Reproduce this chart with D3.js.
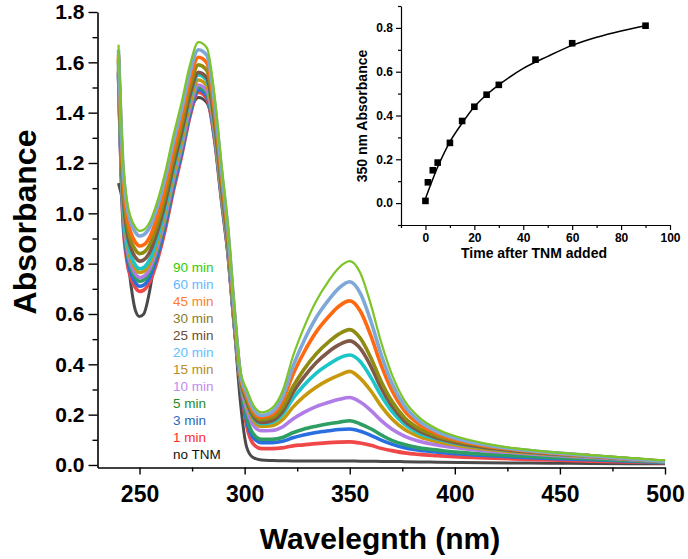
<!DOCTYPE html>
<html><head><meta charset="utf-8">
<script src="https://cdn.jsdelivr.net/npm/d3@7"></script>
<style>body{margin:0;background:#fff}svg{display:block}text{font-family:Arial,"Liberation Sans",sans-serif}</style>
</head><body><svg id="c" width="688" height="559"></svg>
<script>
const wavelengths = [240,242,244,246,248,250,252,255,258,262,266,270,274,278,282,286,289,292,295,298,301,304,308,313,318,323,328,334,340,345,350,355,360,365,370,376,383,392,402,414,428,445,465,500];
const seriesLabels = ["no TNM","1 min","3 min","5 min","10 min","15 min","20 min","25 min","30 min","45 min","60 min","90 min"];
const lineColors = ["#4a4a4a","#f04848","#2a6fe0","#2e9e62","#b07ce6","#c8980c","#1cc6c8","#805848","#8f8c12","#ff6a10","#7fa8d8","#7cc428"];
const legendColors = ["#111111","#ff2a2a","#2a68c0","#1e8c1e","#c48af0","#b88c28","#5ec0ff","#6e4c2c","#8a7a28","#ff7f2a","#66b8ff","#33cc00"];
const absNoTNM = [1.12,1.04,0.86,0.71,0.615,0.59,0.60,0.70,0.86,1.04,1.19,1.31,1.41,1.46,1.44,1.30,1.10,0.88,0.56,0.25,0.07,0.03,0.02,0.018,0.017,0.016,0.016,0.016,0.016,0.016,0.016,0.015,0.015,0.014,0.014,0.013,0.012,0.011,0.010,0.009,0.008,0.007,0.006,0.005];
const abs1min = [1.56,0.99,0.81,0.74,0.705,0.69,0.695,0.73,0.80,0.927,1.085,1.227,1.385,1.48,1.456,1.273,1.051,0.844,0.562,0.326,0.155,0.085,0.065,0.065,0.068,0.076,0.080,0.085,0.089,0.091,0.092,0.087,0.078,0.066,0.057,0.048,0.042,0.037,0.032,0.028,0.024,0.020,0.015,0.009];
const abs3min = [1.55,1.01,0.83,0.76,0.725,0.71,0.715,0.749,0.819,0.944,1.10,1.24,1.396,1.49,1.467,1.281,1.058,0.849,0.566,0.328,0.175,0.11,0.089,0.089,0.094,0.108,0.119,0.129,0.136,0.141,0.143,0.134,0.118,0.099,0.083,0.068,0.059,0.051,0.044,0.038,0.032,0.026,0.021,0.010];
const abs5min = [1.56,1.03,0.85,0.78,0.745,0.73,0.735,0.769,0.838,0.961,1.115,1.254,1.408,1.50,1.477,1.29,1.065,0.855,0.57,0.33,0.19,0.125,0.102,0.102,0.109,0.128,0.142,0.154,0.164,0.170,0.176,0.163,0.144,0.119,0.098,0.081,0.068,0.059,0.050,0.043,0.037,0.030,0.024,0.011];
const abs10min = [1.57,1.045,0.865,0.795,0.76,0.745,0.75,0.783,0.852,0.975,1.128,1.265,1.418,1.51,1.487,1.299,1.072,0.861,0.574,0.332,0.22,0.16,0.136,0.137,0.151,0.183,0.208,0.232,0.249,0.261,0.268,0.250,0.217,0.176,0.143,0.115,0.094,0.079,0.068,0.057,0.049,0.039,0.030,0.013];
const abs15min = [1.58,1.065,0.885,0.815,0.78,0.765,0.77,0.803,0.872,0.995,1.148,1.285,1.438,1.53,1.507,1.316,1.086,0.872,0.581,0.337,0.24,0.18,0.153,0.156,0.180,0.230,0.271,0.309,0.338,0.357,0.372,0.344,0.295,0.234,0.184,0.142,0.113,0.092,0.077,0.064,0.053,0.042,0.033,0.014];
const abs20min = [1.60,1.08,0.90,0.83,0.795,0.78,0.785,0.819,0.888,1.011,1.165,1.304,1.458,1.55,1.527,1.333,1.101,0.884,0.589,0.341,0.25,0.19,0.164,0.169,0.200,0.264,0.315,0.364,0.400,0.425,0.437,0.411,0.349,0.275,0.214,0.162,0.126,0.102,0.083,0.069,0.057,0.044,0.035,0.014];
const abs25min = [1.61,1.11,0.93,0.86,0.825,0.81,0.815,0.848,0.915,1.035,1.185,1.32,1.47,1.56,1.538,1.342,1.108,0.889,0.593,0.343,0.255,0.195,0.169,0.176,0.212,0.288,0.347,0.406,0.450,0.478,0.493,0.463,0.393,0.305,0.235,0.175,0.135,0.106,0.086,0.070,0.057,0.045,0.035,0.014];
const abs30min = [1.62,1.14,0.96,0.89,0.855,0.84,0.845,0.878,0.945,1.065,1.215,1.35,1.50,1.59,1.568,1.367,1.129,0.906,0.604,0.35,0.265,0.205,0.180,0.188,0.228,0.311,0.377,0.441,0.489,0.521,0.538,0.504,0.427,0.332,0.254,0.189,0.145,0.113,0.092,0.075,0.061,0.048,0.037,0.015];
const abs45min = [1.63,1.17,0.99,0.92,0.885,0.87,0.875,0.908,0.975,1.095,1.245,1.38,1.53,1.62,1.598,1.393,1.15,0.923,0.616,0.356,0.275,0.215,0.189,0.200,0.252,0.359,0.444,0.528,0.590,0.632,0.652,0.612,0.515,0.396,0.297,0.216,0.162,0.123,0.097,0.077,0.062,0.048,0.036,0.014];
const abs60min = [1.65,1.21,1.03,0.96,0.925,0.91,0.915,0.947,1.014,1.132,1.28,1.413,1.561,1.65,1.628,1.419,1.172,0.941,0.627,0.363,0.285,0.225,0.197,0.211,0.270,0.392,0.489,0.585,0.656,0.704,0.728,0.683,0.573,0.438,0.327,0.235,0.174,0.131,0.102,0.080,0.064,0.050,0.037,0.014];
const abs90min = [1.67,1.23,1.05,0.98,0.945,0.93,0.935,0.968,1.035,1.155,1.305,1.44,1.59,1.68,1.658,1.445,1.193,0.958,0.638,0.37,0.30,0.24,0.209,0.226,0.293,0.432,0.542,0.651,0.732,0.785,0.810,0.764,0.639,0.486,0.361,0.257,0.189,0.141,0.110,0.086,0.067,0.052,0.039,0.018];
const spectra = [absNoTNM,abs1min,abs3min,abs5min,abs10min,abs15min,abs20min,abs25min,abs30min,abs45min,abs60min,abs90min];

const xTicks = [250,300,350,400,450,500];
const xMinorTicks = [275,325,375,425,475];
const yTicks = [0,0.2,0.4,0.6,0.8,1.0,1.2,1.4,1.6,1.8];
const yMinorTicks = [0.1,0.3,0.5,0.7,0.9,1.1,1.3,1.5,1.7];

const insetTime = [0,1,3,5,10,15,20,25,30,45,60,90];
const insetAbs = [0.01,0.095,0.15,0.185,0.275,0.375,0.44,0.495,0.54,0.655,0.73,0.81];
const fitTime = [0,2,5,10,15,20,25,30,40,50,60,70,80,90];
const fitAbs = [0.02,0.08,0.165,0.28,0.365,0.44,0.495,0.54,0.615,0.67,0.72,0.757,0.786,0.81];
const insetXTicks = [0,20,40,60,80,100];
const insetXMinor = [-10,10,30,50,70,90];
const insetYTicks = [0,0.2,0.4,0.6,0.8];
const insetYMinor = [-0.1,0.1,0.3,0.5,0.7,0.9];

const svg = d3.select("#c");
const x = d3.scaleLinear().domain([230,500]).range([97.5,665]);
const y = d3.scaleLinear().domain([-0.01,1.8]).range([467.5,12]);

// spectra
const line = d3.line().x(d=>x(d[0])).y(d=>y(d[1])).curve(d3.curveMonotoneX);
spectra.forEach((s,i)=>{
  const pts = wavelengths.map((w,j)=>[w,s[j]]);
  svg.append("path").attr("d",line(pts)).attr("fill","none")
    .attr("stroke",lineColors[i]).attr("stroke-width", i===11?2.2:(i===0?3:3.6))
    .attr("stroke-linejoin","round");
});

// axes
const gx = svg.append("g").attr("transform","translate(0,467.5)");
gx.call(d3.axisBottom(x).tickValues(xTicks).tickSize(7).tickSizeOuter(0).tickFormat(d3.format("d")));
gx.append("g").call(d3.axisBottom(x).tickValues(xMinorTicks).tickSize(4).tickFormat("")).select(".domain").remove();
gx.selectAll("path.domain").attr("stroke","#000").attr("stroke-width",1.6);
gx.selectAll("line").attr("stroke","#000").attr("stroke-width",1.4);
gx.selectAll("text").attr("font-size",23).attr("font-weight","bold").attr("fill","#000").attr("dy","1.05em");

const gy = svg.append("g").attr("transform","translate(97.5,0)");
gy.call(d3.axisLeft(y).tickValues(yTicks).tickSize(9).tickSizeOuter(0).tickFormat(d3.format(".1f")));
gy.append("g").call(d3.axisLeft(y).tickValues(yMinorTicks).tickSize(5).tickFormat("")).select(".domain").remove();
gy.selectAll("path.domain").attr("stroke","#000").attr("stroke-width",1.6);
gy.selectAll("line").attr("stroke","#000").attr("stroke-width",1.4);
gy.selectAll("text").attr("font-size",21).attr("font-weight","bold").attr("fill","#000").attr("x",-13);

svg.append("text").attr("transform","translate(36,222) rotate(-90)").attr("text-anchor","middle")
  .attr("font-size",32).attr("font-weight","bold").text("Absorbance");
svg.append("text").attr("x",380).attr("y",549).attr("text-anchor","middle")
  .attr("font-size",30).attr("font-weight","bold").text("Wavelegnth (nm)");

// legend
const legendOrder = [11,10,9,8,7,6,5,4,3,2,1,0];
legendOrder.forEach((si,k)=>{
  svg.append("text").attr("x",173).attr("y",272+k*17).attr("font-size",13.5)
    .attr("fill",legendColors[si]).text(seriesLabels[si]);
});

// inset
const ix = d3.scaleLinear().domain([-10,100]).range([401,670]);
const iy = d3.scaleLinear().domain([-0.1,0.9]).range([225,6]);
const igx = svg.append("g").attr("transform","translate(0,225)");
igx.call(d3.axisBottom(ix).tickValues(insetXTicks).tickSize(5).tickSizeOuter(0));
igx.append("g").call(d3.axisBottom(ix).tickValues(insetXMinor).tickSize(3).tickFormat("")).select(".domain").remove();
igx.selectAll("text").attr("font-size",12).attr("font-weight","bold").attr("fill","#000");
const igy = svg.append("g").attr("transform","translate(401,0)");
igy.call(d3.axisLeft(iy).tickValues(insetYTicks).tickSize(5).tickSizeOuter(0).tickFormat(d3.format(".1f")));
igy.append("g").call(d3.axisLeft(iy).tickValues(insetYMinor).tickSize(3).tickFormat("")).select(".domain").remove();
igy.selectAll("text").attr("font-size",12).attr("font-weight","bold").attr("fill","#000");
svg.selectAll("g path.domain").attr("stroke","#000");
igx.selectAll("path.domain,line").attr("stroke-width",1.2);
igy.selectAll("path.domain,line").attr("stroke-width",1.2);

const fitLine = d3.line().x(d=>ix(d[0])).y(d=>iy(d[1])).curve(d3.curveCatmullRom.alpha(0.5));
svg.append("path").attr("d",fitLine(fitTime.map((t,i)=>[t,fitAbs[i]])))
  .attr("fill","none").attr("stroke","#000").attr("stroke-width",1.5);
svg.selectAll("rect.pt").data(insetTime.map((t,i)=>[t,insetAbs[i]])).enter().append("rect")
  .attr("class","pt").attr("x",d=>ix(d[0])-3.3).attr("y",d=>iy(d[1])-3.3)
  .attr("width",6.6).attr("height",6.6).attr("fill","#000");

svg.append("text").attr("transform","translate(367,116) rotate(-90)").attr("text-anchor","middle")
  .attr("font-size",14).attr("font-weight","bold").text("350 nm Absorbance");
svg.append("text").attr("x",534).attr("y",258).attr("text-anchor","middle")
  .attr("font-size",14).attr("font-weight","bold").text("Time after TNM added");
</script></body></html>
